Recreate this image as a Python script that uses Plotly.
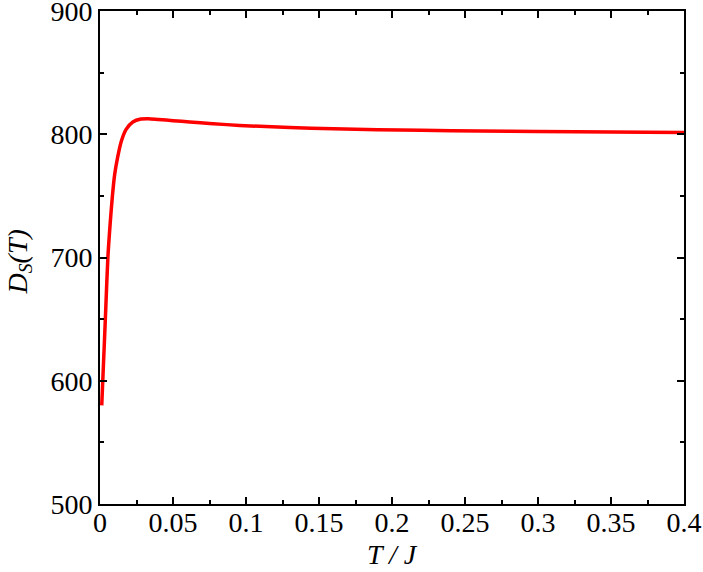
import plotly.graph_objects as go

T_values = [0.0012, 0.0019, 0.003, 0.004, 0.0054, 0.007, 0.0085, 0.010, 0.0122, 0.0145,
            0.0179, 0.0225, 0.028, 0.033, 0.04, 0.05, 0.0614, 0.075, 0.0957, 0.13,
            0.16, 0.19, 0.22, 0.26, 0.3, 0.35, 0.4]
Ds_values = [580, 600, 631, 660, 700, 728, 750, 767, 782, 794,
             804, 810, 812.3, 812.6, 812.0, 811.0, 810.0, 808.7, 807.2, 805.4,
             804.4, 803.7, 803.2, 802.6, 802.2, 801.8, 801.5]

x_tickvals = [0, 0.05, 0.1, 0.15, 0.2, 0.25, 0.3, 0.35, 0.4]
x_ticktext = ["0", "0.05", "0.1", "0.15", "0.2", "0.25", "0.3", "0.35", "0.4"]
y_tickvals = [500, 600, 700, 800, 900]
x_title = "<i>T / J</i>"
y_title = "<i>D<sub>S</sub>(T)</i>"

font_family = "Liberation Serif"

fig = go.Figure()
fig.add_trace(go.Scatter(x=T_values, y=Ds_values, mode="lines",
                         line=dict(color="#ff0000", width=3.5, shape="spline", smoothing=0.8),
                         showlegend=False, hoverinfo="skip"))

axis_common = dict(showline=True, linecolor="black", linewidth=2, mirror="ticks",
                   ticks="inside", ticklen=7, tickwidth=2, tickcolor="black",
                   showgrid=False, zeroline=False, automargin=False,
                   ticklabeloverflow="allow",
                   tickfont=dict(family=font_family, size=28, color="black"))

fig.update_xaxes(range=[0, 0.4], tickvals=x_tickvals, ticktext=x_ticktext,
                 ticklabelstandoff=-8,
                 minor=dict(ticks="inside", ticklen=4, tickwidth=1.5, tickcolor="black", dtick=0.025, tick0=0),
                 **axis_common)
fig.update_yaxes(range=[500, 900], tickvals=y_tickvals,
                 minor=dict(ticks="inside", ticklen=4, tickwidth=1.5, tickcolor="black", dtick=50, tick0=500),
                 **axis_common)

fig.add_annotation(text=x_title, xref="paper", yref="paper", x=0.5, y=0,
                   xanchor="center", yanchor="middle", yshift=-50, showarrow=False,
                   font=dict(family=font_family, size=28, color="black"))
fig.add_annotation(text=y_title, xref="paper", yref="paper", x=0, y=0.49,
                   xanchor="center", yanchor="middle", xshift=-81, textangle=-90, showarrow=False,
                   font=dict(family=font_family, size=28, color="black"))

fig.update_layout(width=703, height=572, plot_bgcolor="white", paper_bgcolor="white",
                  margin=dict(l=100, r=19, t=11, b=68))

fig.write_html("out.html", config={"displayModeBar": False},
               post_script="document.body.style.margin='0';document.body.style.overflow='hidden';")
